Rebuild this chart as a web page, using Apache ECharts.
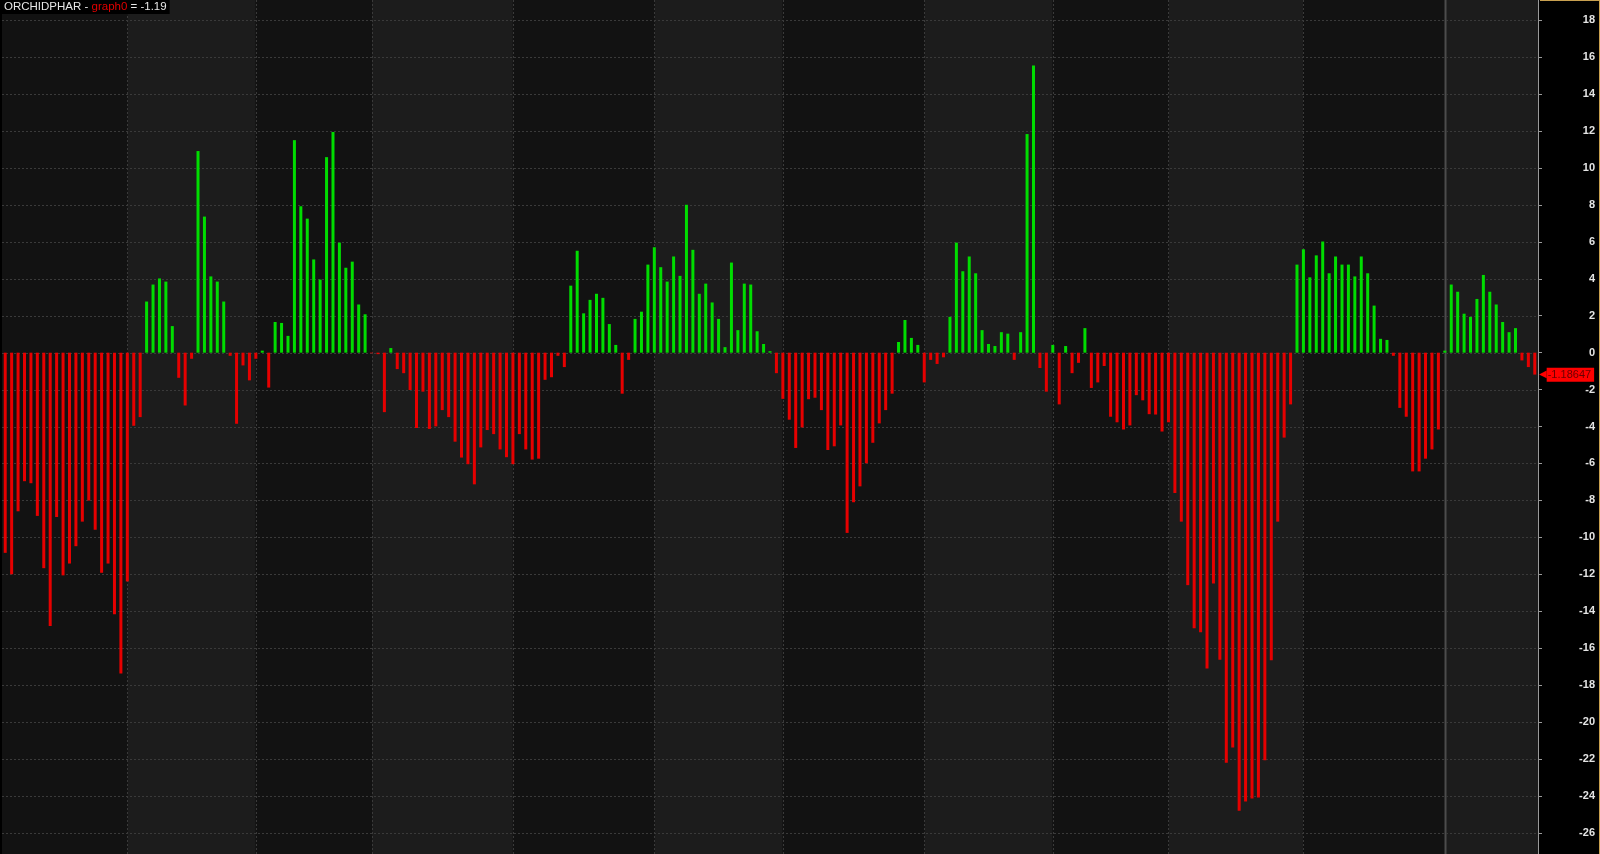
<!DOCTYPE html>
<html>
<head>
<meta charset="utf-8">
<script src="https://cdn.jsdelivr.net/npm/echarts@6/dist/echarts.min.js"></script>
<style>
html,body{margin:0;padding:0;background:#000;}
#chart{width:1600px;height:854px;}
</style>
</head>
<body>
<div id="chart"></div>
<script>
// ---- data ----
const values = [
-10.84,-12.0,-8.59,-6.96,-7.07,-8.84,-11.67,-14.80,-8.90,-12.06,
-11.42,-10.48,-9.15,-8.01,-9.59,-11.92,-11.42,-14.17,-17.38,-12.39,
-3.96,-3.49,2.77,3.69,4.02,3.85,1.44,-1.36,-2.86,-0.33,
10.92,7.37,4.13,3.85,2.77,-0.17,-3.85,-0.69,-1.50,-0.33,
0.11,-1.89,1.66,1.61,0.91,11.51,7.93,7.26,5.05,3.96,
10.59,11.95,5.96,4.60,4.93,2.61,2.08,-0.03,-0.08,-3.22,
0.25,-0.89,-1.11,-2.02,-4.08,-2.11,-4.13,-3.99,-3.11,-3.49,
-4.82,-5.68,-6.04,-7.13,-5.13,-4.19,-4.41,-5.24,-5.66,-6.04,
-4.41,-5.24,-5.79,-5.74,-1.47,-1.33,-0.17,-0.78,3.63,5.52,
2.13,2.86,3.19,2.97,1.55,0.42,-2.22,-0.39,1.83,2.22,
4.77,5.71,4.63,3.85,5.21,4.16,8.01,5.57,3.19,3.74,
2.72,1.83,0.30,4.88,1.22,3.74,3.69,1.16,0.47,0.08,
-1.11,-2.50,-3.63,-5.16,-4.05,-2.52,-2.44,-3.11,-5.27,-5.07,
-3.94,-9.76,-8.10,-7.24,-5.99,-4.88,-3.83,-3.11,-2.22,0.58,
1.77,0.80,0.42,-1.61,-0.39,-0.61,-0.25,1.94,5.96,4.41,
5.21,4.30,1.22,0.47,0.36,1.11,1.03,-0.39,1.11,11.84,
15.55,-0.83,-2.11,0.42,-2.80,0.36,-1.11,-0.55,1.33,-1.91,
-1.61,-0.72,-3.47,-3.77,-4.16,-3.94,-2.30,-2.58,-3.33,-3.35,
-4.27,-3.77,-7.60,-9.15,-12.59,-14.92,-15.14,-17.11,-12.50,-16.63,
-22.21,-21.38,-24.81,-24.31,-24.15,-24.09,-22.07,-16.66,-9.15,-4.60,
-2.80,4.77,5.60,4.08,5.27,6.02,4.30,5.21,4.77,4.77,
4.13,5.21,4.30,2.55,0.75,0.69,-0.17,-2.99,-3.47,-6.43,
-6.43,-5.74,-5.24,-4.16,0.11,3.69,3.30,2.11,1.94,2.91,
4.21,3.30,2.61,1.66,1.11,1.33,-0.42,-0.78,-1.18647
];
const categories = values.map((v, i) => String(i + 1));
const monthStarts = [19, 39, 57, 79, 101, 121, 143, 163, 181, 202, 224];
const yearStart = 224;
const yTicks = [18,16,14,12,10,8,6,4,2,0,-2,-4,-6,-8,-10,-12,-14,-16,-18,-20,-22,-24,-26];
const yMin = -27.15, yMax = 19.1;
const symbolName = 'ORCHIDPHAR';
const seriesName = 'graph0';
const lastValue = -1.18647;

// ---- bands built from month starts ----
const bounds = [0].concat(monthStarts).concat([values.length]);
const bands = [];
for (let i = 0; i < bounds.length - 1; i++) {
  bands.push([bounds[i], bounds[i + 1], i % 2]);
}

const chart = echarts.init(document.getElementById('chart'), null, {renderer: 'canvas'});
const N = values.length;
const FONT = 'Arial, "Liberation Sans", sans-serif';

chart.setOption({
  backgroundColor: '#000000',
  animation: false,
  title: {
    left: 1, top: 0,
    padding: [1, 3, 1, 3],
    backgroundColor: '#000000',
    text: '{w|' + symbolName + ' - }{r|' + seriesName + '}{w| = ' + lastValue.toFixed(2) + '}',
    textStyle: {
      fontSize: 11.5, fontFamily: FONT, fontWeight: 'normal',
      rich: {
        w: {color: '#e6e6e6', fontSize: 11.5, fontFamily: FONT},
        r: {color: '#e00000', fontSize: 11.5, fontFamily: FONT}
      }
    }
  },
  grid: {left: 2, right: 62, top: 0, bottom: 0, containLabel: false},
  xAxis: {
    type: 'category', data: categories, boundaryGap: true,
    axisLine: {show: false}, axisTick: {show: false}, axisLabel: {show: false},
    splitLine: {show: false}
  },
  yAxis: {
    type: 'value', position: 'right', min: yMin, max: yMax,
    axisLine: {show: true, lineStyle: {color: '#9a9a9a', width: 1}},
    axisTick: {show: true, length: 4, customValues: yTicks, lineStyle: {color: '#9a9a9a'}},
    axisLabel: {
      customValues: yTicks,
      color: '#e4e4e4', fontSize: 11, fontWeight: 'bold',
      fontFamily: FONT,
      align: 'right', margin: 57
    },
    splitLine: {show: false}
  },
  series: [
    {
      type: 'custom', z: 0, silent: true, clip: false,
      data: bands,
      encode: {x: 0},
      renderItem: function (params, api) {
        const cs = params.coordSys;
        const s = api.value(0), e = api.value(1), shade = api.value(2);
        const x0 = s === 0 ? cs.x : api.coord([s, 0])[0];
        const x1 = e >= N ? cs.x + cs.width : api.coord([e, 0])[0];
        const children = [{
          type: 'rect',
          shape: {x: x0, y: cs.y, width: x1 - x0, height: cs.height},
          style: {fill: shade === 0 ? '#121212' : '#1c1c1c'}
        }];
        if (s !== 0) {
          const isYear = s === yearStart;
          const lx = Math.round(x0) + 0.5;
          children.push({
            type: 'line',
            shape: {x1: lx, y1: cs.y, x2: lx, y2: cs.y + cs.height},
            style: isYear
              ? {stroke: '#4c4c4c', lineWidth: 2}
              : {stroke: '#3a3a3a', lineWidth: 1, lineDash: [2, 2]}
          });
        }
        return {type: 'group', children: children};
      }
    },
    {
      type: 'custom', z: 1, silent: true, clip: false,
      data: yTicks.map(v => [0, v]),
      encode: {x: 0, y: 1},
      renderItem: function (params, api) {
        const cs = params.coordSys;
        const y = Math.round(api.coord([0, api.value(1)])[1]) + 0.5;
        return {
          type: 'line',
          shape: {x1: cs.x, y1: y, x2: cs.x + cs.width, y2: y},
          style: {stroke: '#3a3a3a', lineWidth: 1, lineDash: [2, 2]}
        };
      }
    },
    {
      type: 'bar', z: 2, name: seriesName, clip: false,
      data: values,
      barWidth: 3,
      itemStyle: {
        color: function (p) { return p.value >= 0 ? '#00dd00' : '#e60000'; }
      },
      markLine: {
        silent: true, symbol: ['none', 'none'],
        lineStyle: {width: 0, color: 'rgba(0,0,0,0)'},
        data: [{yAxis: lastValue}],
        label: {
          show: true, position: 'end', distance: 1,
          formatter: '{a|\u25C0}{b|' + String(lastValue) + '}',
          rich: {
            a: {color: '#ff0000', fontSize: 10, fontFamily: '"DejaVu Sans"', lineHeight: 15, padding: [0, 0, 0, 0]},
            b: {color: '#6a0000', backgroundColor: '#ff0000', fontSize: 11,
                fontFamily: FONT, padding: [2, 3, 1, 1], lineHeight: 12}
          }
        }
      }
    }
  ],
  graphic: [
    {type: 'line', silent: true, shape: {x1: 1540, y1: 0.5, x2: 1600, y2: 0.5}, style: {stroke: '#c8a050', lineWidth: 1}},
    {type: 'line', silent: true, shape: {x1: 1599.5, y1: 0, x2: 1599.5, y2: 854}, style: {stroke: '#c8a050', lineWidth: 1}}
  ]
});
</script>
</body>
</html>
